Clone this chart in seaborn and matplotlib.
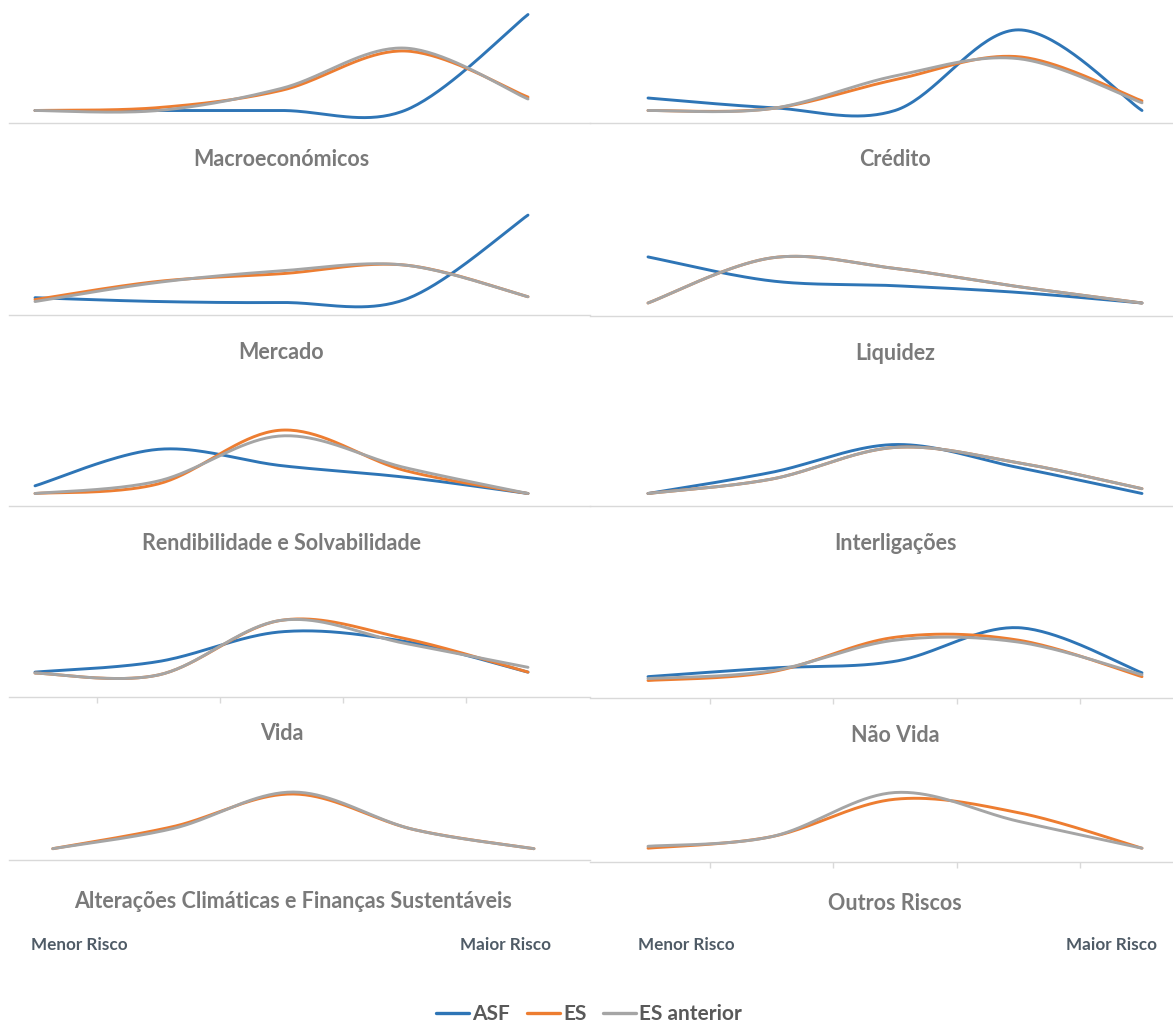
import numpy as np
import pandas as pd
import matplotlib
matplotlib.use("Agg")
import matplotlib.pyplot as plt
import seaborn as sns
from matplotlib.lines import Line2D

sns.set_theme(style="white")
plt.rcParams["font.family"] = ["Lato", "DejaVu Sans"]

# Escala de risco: 1 = menor risco ... 5 = maior risco
niveis = [1, 2, 3, 4, 5]
series = ["ASF", "ES", "ES anterior"]
cores = {"ASF": "#2E75B6", "ES": "#ED7D31", "ES anterior": "#A5A5A5"}

categorias = [
    "Macroeconómicos", "Crédito", "Mercado", "Liquidez",
    "Rendibilidade e Solvabilidade", "Interligações", "Vida", "Não Vida",
    "Alterações Climáticas e Finanças Sustentáveis", "Outros Riscos",
]

# Distribuição das avaliações (%) por nível de risco
macro_asf = [0, 0, 0, 0, 100]
macro_es = [0, 3, 21, 62, 14]
macro_es_ant = [0, 0, 23, 65, 12]

credito_asf = [13, 3, 0, 84, 0]
credito_es = [0, 2, 32, 56, 10]
credito_es_ant = [0, 2, 36, 54, 8]

mercado_asf = [5, 1, 0, 3, 91]
mercado_es = [3, 22, 30, 39, 6]
mercado_es_ant = [1, 21, 33, 39, 6]

liquidez_asf = [48, 23, 18, 11, 0]
liquidez_es = [0, 47, 36, 17, 0]
liquidez_es_ant = [0, 47, 36, 17, 0]

rendib_asf = [8, 46, 29, 17, 0]
rendib_es = [0, 10, 66, 24, 0]
rendib_es_ant = [0, 13, 60, 27, 0]

interlig_asf = [0, 22, 51, 27, 0]
interlig_es = [0, 15, 48, 32, 5]
interlig_es_ant = [0, 15, 48, 32, 5]

vida_asf = [3, 14, 45, 35, 3]
vida_es = [2, 0, 57, 38, 3]
vida_es_ant = [2, 0, 57, 33, 8]

naovida_asf = [4, 13, 20, 55, 8]
naovida_es = [0, 9, 45, 42, 4]
naovida_es_ant = [2, 10, 42, 40, 6]

clima_asf = None
clima_es = [0, 23, 57, 20, 0]
clima_es_ant = [0, 21, 59, 20, 0]

outros_asf = None
outros_es = [0, 12, 51, 37, 0]
outros_es_ant = [2, 12, 58, 28, 0]

dados = [
    (macro_asf, macro_es, macro_es_ant),
    (credito_asf, credito_es, credito_es_ant),
    (mercado_asf, mercado_es, mercado_es_ant),
    (liquidez_asf, liquidez_es, liquidez_es_ant),
    (rendib_asf, rendib_es, rendib_es_ant),
    (interlig_asf, interlig_es, interlig_es_ant),
    (vida_asf, vida_es, vida_es_ant),
    (naovida_asf, naovida_es, naovida_es_ant),
    (clima_asf, clima_es, clima_es_ant),
    (outros_asf, outros_es, outros_es_ant),
]

# ---- layout (pixels of a 1173 x 1025 canvas) ----
W, H = 1173, 1025
PX_POR_PCT = 0.96      # vertical scale shared by all panels
ALTURA = 120           # axes height above the baseline
# baseline y, zero offset above baseline, first/last category centre, axis left/right
layout = [
    (123, 12.5, 35, 528, 9, 590),
    (123, 12.5, 648, 1142, 590, 1173),
    (315, 12.5, 35, 528, 9, 590),
    (316, 13.0, 648, 1142, 590, 1173),
    (506, 12.5, 35, 528, 9, 590),
    (506, 12.5, 648, 1142, 590, 1173),
    (697, 22.0, 35, 528, 9, 590),
    (698, 17.5, 648, 1142, 590, 1173),
    (860, 11.3, 52.7, 534, 9, 590),
    (862, 13.8, 648, 1142, 590, 1173),
]
com_ticks = {6, 7, 9}
titulo_dy = [37, 37, 37, 37, 37, 37, 37, 37, 41, 41]


def suavizar(valores, n=40):
    """Smoothed line through the points (cubic Bezier, Catmull-Rom style)."""
    y = np.asarray(valores, float)
    x = np.arange(len(y), dtype=float)
    pts = np.column_stack([x, y])
    ext = np.vstack([pts[0], pts, pts[-1]])
    t = np.linspace(0, 1, n, endpoint=False)[:, None]
    out = []
    for i in range(len(pts) - 1):
        p0, p1, p2, p3 = ext[i], ext[i + 1], ext[i + 2], ext[i + 3]
        c1 = p1 + (p2 - p0) / 6.0
        c2 = p2 - (p3 - p1) / 6.0
        seg = ((1 - t) ** 3) * p1 + 3 * ((1 - t) ** 2) * t * c1 \
            + 3 * (1 - t) * t ** 2 * c2 + t ** 3 * p2
        out.append(seg)
    out.append(pts[-1:])
    return np.vstack(out)


fig = plt.figure(figsize=(W / 100, H / 100), dpi=100)

for k, (nome, trio) in enumerate(zip(categorias, dados)):
    base, z, c0, c4, a0, a1 = layout[k]
    esp = (c4 - c0) / 4.0
    ax = fig.add_axes([a0 / W, 1 - base / H, (a1 - a0) / W, ALTURA / H])

    linhas = []
    for serie, valores in zip(series, trio):
        if valores is None:
            continue
        curva = suavizar(valores)
        linhas.append(pd.DataFrame({"nivel": curva[:, 0], "valor": curva[:, 1],
                                    "serie": serie}))
    df = pd.concat(linhas, ignore_index=True)
    sns.lineplot(data=df, x="nivel", y="valor", hue="serie", palette=cores,
                 hue_order=[s for s in series if s in df["serie"].unique()],
                 estimator=None, sort=False, legend=False, linewidth=2.1, ax=ax)

    ax.set_xlim((a0 - c0) / esp, (a1 - c0) / esp)
    ax.set_ylim(-z / PX_POR_PCT, (ALTURA - z) / PX_POR_PCT)
    for s in ("left", "right", "top"):
        ax.spines[s].set_visible(False)
    ax.spines["bottom"].set_color("#D9D9D9")
    ax.spines["bottom"].set_linewidth(1.0)
    ax.set_yticks([])
    ax.set_xlabel("")
    ax.set_ylabel("")
    ax.set_facecolor("none")
    if k in com_ticks:
        ax.set_xticks([0.5, 1.5, 2.5, 3.5])
        ax.tick_params(axis="x", bottom=True, length=4, width=1,
                       color="#D9D9D9", labelbottom=False)
    else:
        ax.set_xticks([])

    cx = (c0 + c4) / 2.0
    fig.text(cx / W, 1 - (base + titulo_dy[k]) / H, nome, ha="center", va="center",
             fontsize=15.5, fontweight="bold", color="#7A7A7A")

# extremos da escala
for x_esq, x_dir in ((31, 551), (638, 1157)):
    fig.text(x_esq / W, 1 - 945 / H, "Menor Risco", ha="left", va="center",
             fontsize=12.3, fontweight="bold", color="#4F5B66")
    fig.text(x_dir / W, 1 - 945 / H, "Maior Risco", ha="right", va="center",
             fontsize=12.3, fontweight="bold", color="#4F5B66")

handles = [Line2D([0], [0], color=cores[s], lw=2.4) for s in series]
fig.legend(handles, series, loc="center", bbox_to_anchor=(589 / W, 1 - 1014 / H),
           ncol=3, frameon=False, handlelength=1.6, handletextpad=0.15,
           columnspacing=0.8, prop={"weight": "bold", "size": 15},
           labelcolor="#595959")

fig.savefig("out.png", dpi=100, facecolor="white")
